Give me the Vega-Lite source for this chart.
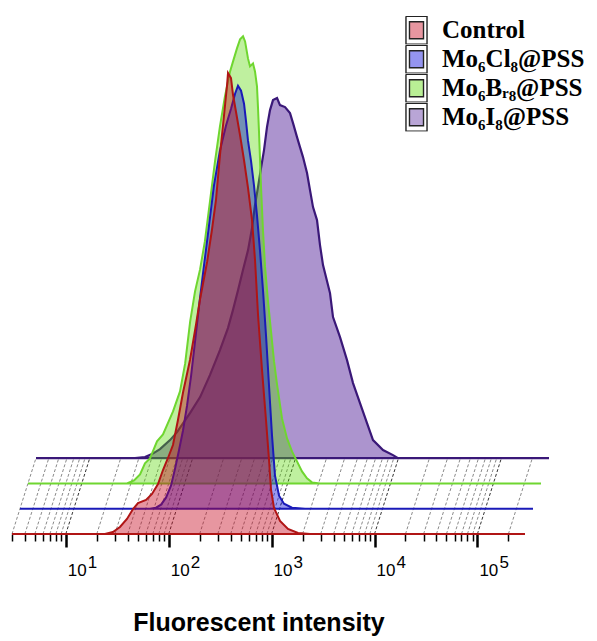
{
  "$schema": "https://vega.github.io/schema/vega-lite/v6.json",
  "width": 513,
  "height": 500,
  "autosize": {"type": "none"},
  "padding": {"left": 12, "top": 34, "right": 72, "bottom": 107},
  "background": "white",
  "config": {"view": {"stroke": null}},
  "datasets": {
    "ticks": [
      {"intensity": 3}, {"intensity": 4}, {"intensity": 5}, {"intensity": 6}, {"intensity": 7}, {"intensity": 8}, {"intensity": 9},
      {"intensity": 10}, {"intensity": 20}, {"intensity": 30}, {"intensity": 40}, {"intensity": 50}, {"intensity": 60}, {"intensity": 70}, {"intensity": 80}, {"intensity": 90},
      {"intensity": 100}, {"intensity": 200}, {"intensity": 300}, {"intensity": 400}, {"intensity": 500}, {"intensity": 600}, {"intensity": 700}, {"intensity": 800}, {"intensity": 900},
      {"intensity": 1000}, {"intensity": 2000}, {"intensity": 3000}, {"intensity": 4000}, {"intensity": 5000}, {"intensity": 6000}, {"intensity": 7000}, {"intensity": 8000}, {"intensity": 9000},
      {"intensity": 10000}, {"intensity": 20000}, {"intensity": 30000}, {"intensity": 40000}, {"intensity": 50000}, {"intensity": 60000}, {"intensity": 70000}, {"intensity": 80000}, {"intensity": 90000},
      {"intensity": 100000}, {"intensity": 200000}
    ],
    "decades": [
      {"intensity": 10, "e": "1"}, {"intensity": 100, "e": "2"}, {"intensity": 1000, "e": "3"}, {"intensity": 10000, "e": "4"}, {"intensity": 100000, "e": "5"}
    ],
    "hist": [
      {"series": "Control", "intensity": 3, "count": 0},
      {"series": "Control", "intensity": 24, "count": 0},
      {"series": "Control", "intensity": 28.7, "count": 2},
      {"series": "Control", "intensity": 33.6, "count": 7},
      {"series": "Control", "intensity": 39.3, "count": 15},
      {"series": "Control", "intensity": 45, "count": 25},
      {"series": "Control", "intensity": 50.3, "count": 31},
      {"series": "Control", "intensity": 60.2, "count": 34},
      {"series": "Control", "intensity": 68.8, "count": 40},
      {"series": "Control", "intensity": 78.7, "count": 50},
      {"series": "Control", "intensity": 88, "count": 64},
      {"series": "Control", "intensity": 98.4, "count": 76},
      {"series": "Control", "intensity": 110, "count": 89},
      {"series": "Control", "intensity": 123, "count": 114},
      {"series": "Control", "intensity": 138, "count": 142},
      {"series": "Control", "intensity": 161, "count": 174},
      {"series": "Control", "intensity": 184, "count": 209},
      {"series": "Control", "intensity": 201, "count": 234},
      {"series": "Control", "intensity": 236, "count": 272},
      {"series": "Control", "intensity": 263, "count": 304},
      {"series": "Control", "intensity": 288, "count": 334},
      {"series": "Control", "intensity": 315, "count": 379},
      {"series": "Control", "intensity": 345, "count": 419},
      {"series": "Control", "intensity": 369, "count": 449},
      {"series": "Control", "intensity": 377, "count": 461},
      {"series": "Control", "intensity": 403, "count": 456},
      {"series": "Control", "intensity": 422, "count": 439},
      {"series": "Control", "intensity": 451, "count": 422},
      {"series": "Control", "intensity": 493, "count": 399},
      {"series": "Control", "intensity": 539, "count": 374},
      {"series": "Control", "intensity": 590, "count": 346},
      {"series": "Control", "intensity": 645, "count": 314},
      {"series": "Control", "intensity": 690, "count": 274},
      {"series": "Control", "intensity": 738, "count": 219},
      {"series": "Control", "intensity": 807, "count": 164},
      {"series": "Control", "intensity": 882, "count": 114},
      {"series": "Control", "intensity": 944, "count": 74},
      {"series": "Control", "intensity": 987, "count": 44},
      {"series": "Control", "intensity": 1055, "count": 26},
      {"series": "Control", "intensity": 1207, "count": 13},
      {"series": "Control", "intensity": 1443, "count": 5},
      {"series": "Control", "intensity": 1805, "count": 1},
      {"series": "Control", "intensity": 2361, "count": 0},
      {"series": "Control", "intensity": 290000, "count": 0},
      {"series": "Mo₆Cl₈@PSS", "intensity": 3, "count": 0},
      {"series": "Mo₆Cl₈@PSS", "intensity": 55, "count": 0},
      {"series": "Mo₆Cl₈@PSS", "intensity": 62.9, "count": 1},
      {"series": "Mo₆Cl₈@PSS", "intensity": 70.4, "count": 4},
      {"series": "Mo₆Cl₈@PSS", "intensity": 78.7, "count": 11},
      {"series": "Mo₆Cl₈@PSS", "intensity": 88, "count": 23},
      {"series": "Mo₆Cl₈@PSS", "intensity": 96.3, "count": 40},
      {"series": "Mo₆Cl₈@PSS", "intensity": 105, "count": 58},
      {"series": "Mo₆Cl₈@PSS", "intensity": 115, "count": 78},
      {"series": "Mo₆Cl₈@PSS", "intensity": 126, "count": 103},
      {"series": "Mo₆Cl₈@PSS", "intensity": 138, "count": 133},
      {"series": "Mo₆Cl₈@PSS", "intensity": 151, "count": 168},
      {"series": "Mo₆Cl₈@PSS", "intensity": 165, "count": 203},
      {"series": "Mo₆Cl₈@PSS", "intensity": 184, "count": 243},
      {"series": "Mo₆Cl₈@PSS", "intensity": 206, "count": 283},
      {"series": "Mo₆Cl₈@PSS", "intensity": 230, "count": 323},
      {"series": "Mo₆Cl₈@PSS", "intensity": 263, "count": 358},
      {"series": "Mo₆Cl₈@PSS", "intensity": 301, "count": 383},
      {"series": "Mo₆Cl₈@PSS", "intensity": 337, "count": 400},
      {"series": "Mo₆Cl₈@PSS", "intensity": 369, "count": 415},
      {"series": "Mo₆Cl₈@PSS", "intensity": 394, "count": 423},
      {"series": "Mo₆Cl₈@PSS", "intensity": 422, "count": 418},
      {"series": "Mo₆Cl₈@PSS", "intensity": 451, "count": 405},
      {"series": "Mo₆Cl₈@PSS", "intensity": 471, "count": 388},
      {"series": "Mo₆Cl₈@PSS", "intensity": 493, "count": 368},
      {"series": "Mo₆Cl₈@PSS", "intensity": 527, "count": 348},
      {"series": "Mo₆Cl₈@PSS", "intensity": 564, "count": 323},
      {"series": "Mo₆Cl₈@PSS", "intensity": 603, "count": 293},
      {"series": "Mo₆Cl₈@PSS", "intensity": 645, "count": 258},
      {"series": "Mo₆Cl₈@PSS", "intensity": 690, "count": 218},
      {"series": "Mo₆Cl₈@PSS", "intensity": 738, "count": 173},
      {"series": "Mo₆Cl₈@PSS", "intensity": 789, "count": 123},
      {"series": "Mo₆Cl₈@PSS", "intensity": 844, "count": 73},
      {"series": "Mo₆Cl₈@PSS", "intensity": 902, "count": 33},
      {"series": "Mo₆Cl₈@PSS", "intensity": 987, "count": 13},
      {"series": "Mo₆Cl₈@PSS", "intensity": 1103, "count": 5},
      {"series": "Mo₆Cl₈@PSS", "intensity": 1320, "count": 1},
      {"series": "Mo₆Cl₈@PSS", "intensity": 1765, "count": 0},
      {"series": "Mo₆Cl₈@PSS", "intensity": 290000, "count": 0},
      {"series": "Mo₆Bᵣ₈@PSS", "intensity": 3, "count": 0},
      {"series": "Mo₆Bᵣ₈@PSS", "intensity": 27.5, "count": 0},
      {"series": "Mo₆Bᵣ₈@PSS", "intensity": 32.2, "count": 3},
      {"series": "Mo₆Bᵣ₈@PSS", "intensity": 36.8, "count": 9},
      {"series": "Mo₆Bᵣ₈@PSS", "intensity": 41.1, "count": 20},
      {"series": "Mo₆Bᵣ₈@PSS", "intensity": 46, "count": 25},
      {"series": "Mo₆Bᵣ₈@PSS", "intensity": 53.8, "count": 42},
      {"series": "Mo₆Bᵣ₈@PSS", "intensity": 61.5, "count": 49},
      {"series": "Mo₆Bᵣ₈@PSS", "intensity": 77, "count": 72},
      {"series": "Mo₆Bᵣ₈@PSS", "intensity": 90, "count": 92},
      {"series": "Mo₆Bᵣ₈@PSS", "intensity": 101, "count": 120},
      {"series": "Mo₆Bᵣ₈@PSS", "intensity": 113, "count": 162},
      {"series": "Mo₆Bᵣ₈@PSS", "intensity": 126, "count": 192},
      {"series": "Mo₆Bᵣ₈@PSS", "intensity": 141, "count": 214},
      {"series": "Mo₆Bᵣ₈@PSS", "intensity": 157, "count": 242},
      {"series": "Mo₆Bᵣ₈@PSS", "intensity": 176, "count": 282},
      {"series": "Mo₆Bᵣ₈@PSS", "intensity": 197, "count": 322},
      {"series": "Mo₆Bᵣ₈@PSS", "intensity": 220, "count": 357},
      {"series": "Mo₆Bᵣ₈@PSS", "intensity": 246, "count": 387},
      {"series": "Mo₆Bᵣ₈@PSS", "intensity": 276, "count": 412},
      {"series": "Mo₆Bᵣ₈@PSS", "intensity": 295, "count": 422},
      {"series": "Mo₆Bᵣ₈@PSS", "intensity": 322, "count": 435},
      {"series": "Mo₆Bᵣ₈@PSS", "intensity": 345, "count": 444},
      {"series": "Mo₆Bᵣ₈@PSS", "intensity": 369, "count": 447},
      {"series": "Mo₆Bᵣ₈@PSS", "intensity": 386, "count": 442},
      {"series": "Mo₆Bᵣ₈@PSS", "intensity": 412, "count": 425},
      {"series": "Mo₆Bᵣ₈@PSS", "intensity": 431, "count": 417},
      {"series": "Mo₆Bᵣ₈@PSS", "intensity": 461, "count": 420},
      {"series": "Mo₆Bᵣ₈@PSS", "intensity": 482, "count": 412},
      {"series": "Mo₆Bᵣ₈@PSS", "intensity": 504, "count": 397},
      {"series": "Mo₆Bᵣ₈@PSS", "intensity": 516, "count": 375},
      {"series": "Mo₆Bᵣ₈@PSS", "intensity": 527, "count": 352},
      {"series": "Mo₆Bᵣ₈@PSS", "intensity": 539, "count": 325},
      {"series": "Mo₆Bᵣ₈@PSS", "intensity": 551, "count": 297},
      {"series": "Mo₆Bᵣ₈@PSS", "intensity": 577, "count": 252},
      {"series": "Mo₆Bᵣ₈@PSS", "intensity": 603, "count": 217},
      {"series": "Mo₆Bᵣ₈@PSS", "intensity": 645, "count": 182},
      {"series": "Mo₆Bᵣ₈@PSS", "intensity": 690, "count": 152},
      {"series": "Mo₆Bᵣ₈@PSS", "intensity": 738, "count": 122},
      {"series": "Mo₆Bᵣ₈@PSS", "intensity": 789, "count": 99},
      {"series": "Mo₆Bᵣ₈@PSS", "intensity": 882, "count": 65},
      {"series": "Mo₆Bᵣ₈@PSS", "intensity": 987, "count": 45},
      {"series": "Mo₆Bᵣ₈@PSS", "intensity": 1103, "count": 32},
      {"series": "Mo₆Bᵣ₈@PSS", "intensity": 1234, "count": 22},
      {"series": "Mo₆Bᵣ₈@PSS", "intensity": 1380, "count": 12},
      {"series": "Mo₆Bᵣ₈@PSS", "intensity": 1543, "count": 5},
      {"series": "Mo₆Bᵣ₈@PSS", "intensity": 1726, "count": 1},
      {"series": "Mo₆Bᵣ₈@PSS", "intensity": 2064, "count": 0},
      {"series": "Mo₆Bᵣ₈@PSS", "intensity": 290000, "count": 0},
      {"series": "Mo₆I₈@PSS", "intensity": 3, "count": 0},
      {"series": "Mo₆I₈@PSS", "intensity": 27.5, "count": 0},
      {"series": "Mo₆I₈@PSS", "intensity": 34.4, "count": 1},
      {"series": "Mo₆I₈@PSS", "intensity": 40.2, "count": 4},
      {"series": "Mo₆I₈@PSS", "intensity": 48.1, "count": 9},
      {"series": "Mo₆I₈@PSS", "intensity": 60.2, "count": 18},
      {"series": "Mo₆I₈@PSS", "intensity": 70.4, "count": 26},
      {"series": "Mo₆I₈@PSS", "intensity": 94.1, "count": 45},
      {"series": "Mo₆I₈@PSS", "intensity": 118, "count": 61},
      {"series": "Mo₆I₈@PSS", "intensity": 147, "count": 83},
      {"series": "Mo₆I₈@PSS", "intensity": 184, "count": 108},
      {"series": "Mo₆I₈@PSS", "intensity": 220, "count": 130},
      {"series": "Mo₆I₈@PSS", "intensity": 246, "count": 148},
      {"series": "Mo₆I₈@PSS", "intensity": 276, "count": 168},
      {"series": "Mo₆I₈@PSS", "intensity": 308, "count": 188},
      {"series": "Mo₆I₈@PSS", "intensity": 345, "count": 208},
      {"series": "Mo₆I₈@PSS", "intensity": 377, "count": 230},
      {"series": "Mo₆I₈@PSS", "intensity": 403, "count": 253},
      {"series": "Mo₆I₈@PSS", "intensity": 431, "count": 271},
      {"series": "Mo₆I₈@PSS", "intensity": 461, "count": 290},
      {"series": "Mo₆I₈@PSS", "intensity": 493, "count": 308},
      {"series": "Mo₆I₈@PSS", "intensity": 527, "count": 331},
      {"series": "Mo₆I₈@PSS", "intensity": 564, "count": 348},
      {"series": "Mo₆I₈@PSS", "intensity": 603, "count": 358},
      {"series": "Mo₆I₈@PSS", "intensity": 660, "count": 360},
      {"series": "Mo₆I₈@PSS", "intensity": 705, "count": 353},
      {"series": "Mo₆I₈@PSS", "intensity": 789, "count": 351},
      {"series": "Mo₆I₈@PSS", "intensity": 882, "count": 345},
      {"series": "Mo₆I₈@PSS", "intensity": 944, "count": 335},
      {"series": "Mo₆I₈@PSS", "intensity": 1032, "count": 321},
      {"series": "Mo₆I₈@PSS", "intensity": 1103, "count": 311},
      {"series": "Mo₆I₈@PSS", "intensity": 1180, "count": 301},
      {"series": "Mo₆I₈@PSS", "intensity": 1291, "count": 285},
      {"series": "Mo₆I₈@PSS", "intensity": 1380, "count": 268},
      {"series": "Mo₆I₈@PSS", "intensity": 1476, "count": 251},
      {"series": "Mo₆I₈@PSS", "intensity": 1614, "count": 238},
      {"series": "Mo₆I₈@PSS", "intensity": 1726, "count": 213},
      {"series": "Mo₆I₈@PSS", "intensity": 1846, "count": 193},
      {"series": "Mo₆I₈@PSS", "intensity": 2159, "count": 165},
      {"series": "Mo₆I₈@PSS", "intensity": 2309, "count": 141},
      {"series": "Mo₆I₈@PSS", "intensity": 2701, "count": 121},
      {"series": "Mo₆I₈@PSS", "intensity": 3159, "count": 98},
      {"series": "Mo₆I₈@PSS", "intensity": 3613, "count": 75},
      {"series": "Mo₆I₈@PSS", "intensity": 4225, "count": 55},
      {"series": "Mo₆I₈@PSS", "intensity": 4942, "count": 35},
      {"series": "Mo₆I₈@PSS", "intensity": 5652, "count": 18},
      {"series": "Mo₆I₈@PSS", "intensity": 7069, "count": 8},
      {"series": "Mo₆I₈@PSS", "intensity": 8841, "count": 3},
      {"series": "Mo₆I₈@PSS", "intensity": 9888, "count": 0},
      {"series": "Mo₆I₈@PSS", "intensity": 290000, "count": 0}
    ]
  },
  "layer": [
    {
      "data": {"name": "ticks"},
      "mark": {"type": "rule", "x2Offset": 24, "strokeDash": [3, 2], "strokeWidth": 1},
      "encoding": {
        "x": {
          "field": "intensity",
          "type": "quantitative",
          "scale": {"type": "log", "domain": [3, 290000], "nice": false},
          "axis": {
            "values": [3,4,5,6,7,8,9,10,20,30,40,50,60,70,80,90,100,200,300,400,500,600,700,800,900,1000,2000,3000,4000,5000,6000,7000,8000,9000,10000,20000,30000,40000,50000,60000,70000,80000,90000,100000,200000],
            "domain": false,
            "grid": false,
            "labels": false,
            "ticks": true,
            "tickColor": "#000000",
            "tickSize": {"condition": {"test": "indexof([10,100,1000,10000,100000], datum.value) >= 0", "value": 13}, "value": 7},
            "tickWidth": {"condition": {"test": "indexof([10,100,1000,10000,100000], datum.value) >= 0", "value": 2.5}, "value": 1.5},
            "title": "Fluorescent intensity",
            "titleFont": "Liberation Sans",
            "titleFontSize": 25,
            "titleFontWeight": "bold",
            "titleColor": "#000000",
            "titleX": 246.5,
            "titleY": 96,
            "titleAlign": "center",
            "titleBaseline": "alphabetic"
          }
        },
        "x2": {"field": "intensity"},
        "y": {"datum": 0, "type": "quantitative", "scale": {"domain": [0, 500], "nice": false}, "axis": null},
        "y2": {"datum": 76},
        "color": {"condition": {"test": "indexof([10,100,1000,10000,100000], datum.intensity) >= 0", "value": "#333333"}, "value": "#8a8a8a"}
      }
    },
    {
      "data": {"name": "hist"},
      "encoding": {
        "x": {"field": "intensity", "type": "quantitative", "title": "Fluorescent intensity"},
        "y": {"field": "count", "type": "quantitative"},
        "color": {
          "field": "series",
          "type": "nominal",
          "scale": {
            "domain": ["Control", "Mo₆Cl₈@PSS", "Mo₆Bᵣ₈@PSS", "Mo₆I₈@PSS"],
            "range": ["#c5041d", "#0000d8", "#57d802", "#59299d"]
          },
          "legend": {
            "orient": "none",
            "legendX": 390,
            "legendY": -18,
            "title": null,
            "padding": 0,
            "rowPadding": 0,
            "clipHeight": 28.5,
            "symbolType": "M-0.78,-1.03L0.78,-1.03L0.78,1.03L-0.78,1.03L-0.78,-1.03L-0.78,1.03L0.78,1.03L0.78,-1.03L-0.78,-1.03M-0.52,-0.63L0.52,-0.63L0.52,0.63L-0.52,0.63Z",
            "symbolSize": 729,
            "symbolStrokeColor": "#222222",
            "symbolStrokeWidth": 1.4,
            "labelFont": "Liberation Serif",
            "labelFontWeight": "bold",
            "labelFontSize": 25,
            "labelColor": "#000000",
            "labelOffset": 11,
            "labelLimit": 300,
            "encode": {
              "symbols": {
                "update": {
                  "stroke": {"value": "#222222"},
                  "strokeWidth": {"value": 1.4},
                  "fillOpacity": {"value": 0.42},
                  "opacity": {"value": 1}
                }
              }
            }
          }
        }
      },
      "layer": [
        {
          "transform": [{"filter": {"field": "series", "equal": "Mo₆I₈@PSS"}}],
          "mark": {"type": "area", "xOffset": 24, "yOffset": -75.9, "y2Offset": -75.9, "fillOpacity": 0.5, "stroke": "#3a1878", "strokeWidth": 2.2}
        },
        {
          "transform": [{"filter": {"field": "series", "equal": "Mo₆Bᵣ₈@PSS"}}],
          "mark": {"type": "area", "xOffset": 16, "yOffset": -50.6, "y2Offset": -50.6, "fillOpacity": 0.38, "stroke": "#6fd630", "strokeWidth": 2}
        },
        {
          "transform": [{"filter": {"field": "series", "equal": "Mo₆Cl₈@PSS"}}],
          "mark": {"type": "area", "xOffset": 8, "yOffset": -25.3, "y2Offset": -25.3, "fillOpacity": 0.4, "stroke": "#1a1ab8", "strokeWidth": 2}
        },
        {
          "transform": [{"filter": {"field": "series", "equal": "Control"}}],
          "mark": {"type": "area", "fillOpacity": 0.42, "stroke": "#b01515", "strokeWidth": 2}
        }
      ]
    },
    {
      "data": {"name": "decades"},
      "mark": {"type": "text", "text": "10", "align": "left", "baseline": "alphabetic", "dx": 2, "dy": 42, "font": "Liberation Sans", "fontSize": 17, "color": "#000000"},
      "encoding": {
        "x": {"field": "intensity", "type": "quantitative", "title": "Fluorescent intensity"},
        "y": {"datum": 0, "type": "quantitative"}
      }
    },
    {
      "data": {"name": "decades"},
      "mark": {"type": "text", "align": "left", "baseline": "alphabetic", "dx": 22, "dy": 34, "font": "Liberation Sans", "fontSize": 17, "color": "#000000"},
      "encoding": {
        "x": {"field": "intensity", "type": "quantitative", "title": "Fluorescent intensity"},
        "y": {"datum": 0, "type": "quantitative"},
        "text": {"field": "e"}
      }
    }
  ]
}
